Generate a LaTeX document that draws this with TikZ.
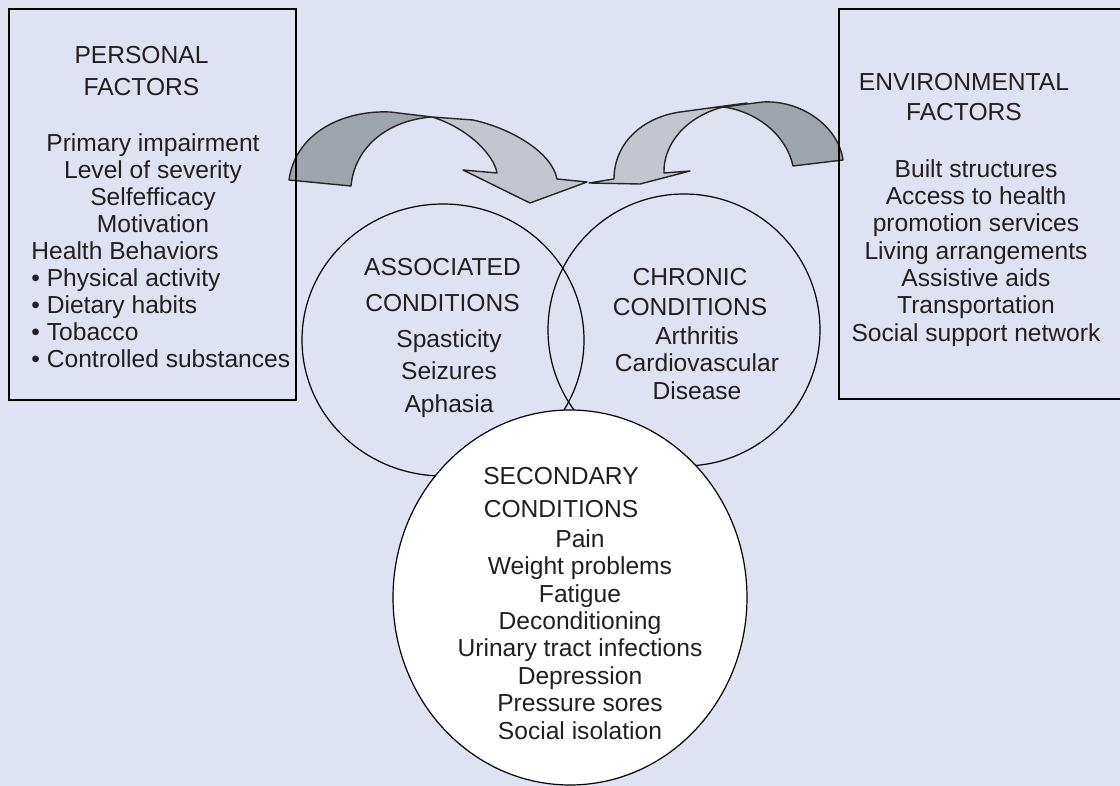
\documentclass[tikz,border=0pt]{standalone}
\usepackage{fontspec}
\setmainfont{Liberation Sans}
\usepackage{xcolor}
\usepackage{tikz}
\usetikzlibrary{shapes.geometric}

\definecolor{bgblue}{HTML}{DFE2F1}
\definecolor{ribbondk}{HTML}{9FA5AE}
\definecolor{ribbonlt}{HTML}{C3C6CF}
\definecolor{inkgray}{HTML}{231F20}
\newcommand{\lblsize}[1]{\fontsize{12.3}{#1}\selectfont}

\begin{document}
\begin{tikzpicture}[x=0.5pt, y=-0.5pt,
			box/.style={draw=black, line width=0.8pt, inner sep=0pt},
			cond/.style={ellipse, draw=black, line width=0.6pt, inner sep=0pt},
			dkribbon/.style={fill=ribbondk, draw=black!85, line width=0.7pt, line join=round},
			ltribbon/.style={fill=ribbonlt, draw=black!85, line width=0.7pt, line join=round},
			txt/.style={inner sep=0pt, text=inkgray, font=\lblsize{#1}, align=center, anchor=north}]

			% page and background
			\fill[bgblue] (0,0) rectangle (1120,786);
			\useasboundingbox (0,0) rectangle (1120,786);
			\clip (0,0) rectangle (1120,786);

			% left ribbon arrow
			\draw[dkribbon] (289,180) .. controls (295,135) and (340,110) .. (390,112) -- (432,117)
				.. controls (390,120) and (355,145) .. (351,186) -- cycle;
			\draw[ltribbon] (432,117) -- (473,120) .. controls (510,128) and (552,152) .. (557,179)
				-- (587,182) -- (530,203) -- (463,170) -- (497,173)
				.. controls (494,155) and (468,128) .. (432,117) -- cycle;

			% right ribbon arrow
			\draw[dkribbon] (843,160) .. controls (838,125) and (800,100) .. (763,102) -- (723,107)
				.. controls (750,110) and (785,130) .. (793,166) -- cycle;
			\draw[ltribbon] (747,103) -- (680,112) .. controls (640,118) and (614,145) .. (614,179)
				-- (589,183) -- (640,184) -- (690,171) -- (664,173)
				.. controls (663,145) and (685,117) .. (723,107) -- cycle;

			% factor boxes
			\node[box, minimum width=143.5pt, minimum height=195.5pt] (personal) at (152.5,204.5) {};
			\node[box, minimum width=145.5pt, minimum height=195pt] (environ) at (984.5,204) {};

			% condition circles
			\node[cond, minimum width=141pt, minimum height=136pt] (assoc) at (443,340) {};
			\node[cond, minimum width=136pt, minimum height=136pt] (chronic) at (684,330) {};
			\node[cond, fill=white, minimum width=177pt, minimum height=187.5pt] (second) at (570,597.5) {};

			% texts
			\node[txt=16] (pfhead) at (141.5,46) {PERSONAL\\FACTORS};
			\node[txt=13.5] (pfbody) at (153,133) {Primary impairment\\Level of severity\\Selfefficacy\\Motivation};
			\node[txt=13.5, align=left, anchor=north west] (pflist) at (31,241)
				{Health Behaviors\\• Physical activity\\• Dietary habits\\• Tobacco\\• Controlled substances};

			\node[txt=15] (envhead) at (964,73) {ENVIRONMENTAL\\FACTORS};
			\node[txt=13.65] (envbody) at (976,159) {Built structures\\Access to health\\promotion services\\Living arrangements\\Assistive aids\\Transportation\\Social support network};

			\node[txt=18] (assochead) at (442.5,258) {ASSOCIATED\\CONDITIONS};
			\node[txt=16.25] (assocbody) at (449,329) {Spasticity\\Seizures\\Aphasia};

			\node[txt=15] (chronhead) at (690,268) {CHRONIC\\CONDITIONS};
			\node[txt=13.75] (chronbody) at (697,326) {Arthritis\\Cardiovascular\\Disease};

			\node[txt=16.5] (sechead) at (561,467) {SECONDARY\\CONDITIONS};
			\node[txt=13.7] (secbody) at (580,529) {Pain\\Weight problems\\Fatigue\\Deconditioning\\Urinary tract infections\\Depression\\Pressure sores\\Social isolation};
		\end{tikzpicture}
\end{document}
